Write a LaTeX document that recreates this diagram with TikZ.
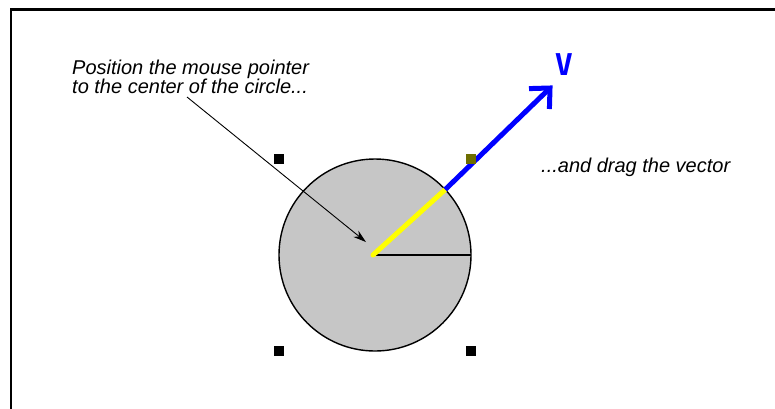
\documentclass[tikz,border=0pt]{standalone}
\usepackage{fontspec}
\setmainfont{Liberation Sans}
\newfontfamily\vfont{DejaVu Sans Mono}
\usetikzlibrary{arrows.meta}
\definecolor{diskgray}{RGB}{198,198,198}
\definecolor{vblue}{RGB}{0,0,255}
\definecolor{vyellow}{RGB}{255,255,0}
\definecolor{handleolive}{RGB}{110,110,0}
\tikzset{
  frameline/.style={line width=2.4pt},
  disk/.style={circle, draw=black, line width=1.4pt, fill=diskgray, minimum size=192pt, inner sep=0pt, outer sep=0pt},
  handle/.style={rectangle, fill=black, minimum size=10pt, inner sep=0pt},
  radius/.style={line width=2pt},
  yellowpart/.style={line width=5pt, draw=vyellow},
  bluepart/.style={line width=5pt, draw=vblue},
  pointer/.style={line width=0.9pt, -{Stealth[length=13pt,width=8pt]}},
  caption/.style={font=\itshape\fontsize{20}{16}\selectfont, anchor=base west, inner sep=0pt},
  vlabel/.style={font=\vfont\bfseries\fontsize{30}{30}\selectfont, text=vblue, inner sep=0pt}
}
\begin{document}
\begin{tikzpicture}[x=1pt,y=-1pt]
\useasboundingbox (0,0) rectangle (775,408);
% frame (top and left edges only)
\coordinate (fbl) at (11,410);
\coordinate (ftl) at (11,9.5);
\coordinate (ftr) at (777,9.5);
\draw[frameline] (fbl) -- (ftl) -- (ftr);
% disk
\node[disk] (circ) at (375,255) {};
\coordinate (c) at (373,255);
\draw[radius] (c) -- (circ.east);
% vector
\coordinate (edge) at (circ.43.3);
\coordinate (tip) at (550,88);
\coordinate (armA) at (529,88.6);
\coordinate (armB) at (549.4,109);
\draw[yellowpart, line cap=round] (c) -- (edge);
\draw[bluepart] (edge) -- (tip);
\draw[bluepart, miter limit=10] (armA) -- (tip) -- (armB);
% handles
\node[handle] (h1) at (279,159) {};
\node[handle, fill=handleolive] (h2) at (471,159) {};
\node[handle] (h3) at (279,351) {};
\node[handle] (h4) at (471,351) {};
% texts
\node[caption] (pos1) at (72,74) {Position the mouse pointer};
\node[caption] (pos2) at (72,93) {to the center of the circle...};
\node[caption] (drag) at (541,172) {...and drag the vector};
\node[vlabel] (v) at (564,65) {V};
% pointer arrow
\coordinate (ps) at (187,97);
\coordinate (pe) at (366,242);
\draw[pointer] (ps) -- (pe);
\end{tikzpicture}
\end{document}
